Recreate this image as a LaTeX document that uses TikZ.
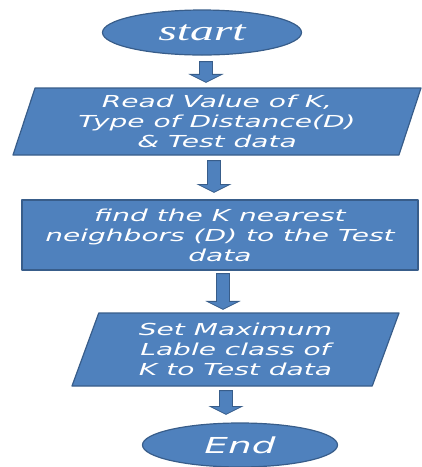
\documentclass[tikz,border=0pt]{standalone}
\usepackage{fontspec}
\usetikzlibrary{shapes.geometric,calc}
\newfontfamily\flowfont{DejaVu Sans}[FakeStretch=1.7]
\newfontfamily\endsfont{Liberation Serif}[FakeStretch=1.7]
\definecolor{boxfill}{HTML}{4F81BD}
\definecolor{boxline}{HTML}{385D8A}
\tikzset{
	shapebox/.style={draw=boxline, fill=boxfill, line width=1.2pt, text=white, inner sep=0pt, align=center,
		font=\flowfont\itshape\fontsize{16.5}{20}\selectfont},
	terminal/.style={shapebox, ellipse},
	iobox/.style={shapebox, trapezium, trapezium stretches body},
	procbox/.style={shapebox, rectangle},
	blockarrow/.style n args={3}{draw=boxline, fill=boxfill, line width=.8pt, line join=miter,
		to path={($(\tikztostart.south)+(#1-6.5,#2)$) -- ($(\tikztostart.south)+(#1+6.5,#2)$)
			-- ($(\tikztostart.south |- \tikztotarget.north)+(#1+6.5,-#3-8)$)
			-- ($(\tikztostart.south |- \tikztotarget.north)+(#1+16,-#3-8)$)
			-- ($(\tikztostart.south |- \tikztotarget.north)+(#1,-#3)$)
			-- ($(\tikztostart.south |- \tikztotarget.north)+(#1-16,-#3-8)$)
			-- ($(\tikztostart.south |- \tikztotarget.north)+(#1-6.5,-#3-8)$) -- cycle}}
}
\begin{document}
\begin{tikzpicture}[x=1pt, y=-1pt, line join=round, line cap=round]
	\useasboundingbox (0,0) rectangle (422,467);
	% start / end
	\node (start) [terminal, minimum width=199, minimum height=45, font=\endsfont\itshape\fontsize{28}{30}\selectfont] at (202,32.5) {start};
	\node (read) [iobox, trapezium left angle=67.3, trapezium right angle=112.7, minimum width=408, minimum height=67] at (217,121.5)
		{Read Value of K,\\Type of Distance(D)\\\& Test data};
	\node (find) [procbox, minimum width=396, minimum height=70] at (220,235)
		{find the K nearest\\neighbors (D) to the Test\\data};
	\node (label) [iobox, trapezium left angle=63.1, trapezium right angle=116.9, minimum width=327, minimum height=73] at (235.5,349.5)
		{Set Maximum\\Lable class of\\K to Test data};
	\node (stop) [terminal, minimum width=195, minimum height=44, font=\flowfont\itshape\fontsize{22}{24}\selectfont] at (240,445) {End};
	% block arrows
	\draw [blockarrow={4}{6}{5}] (start) to (read);
	\draw [blockarrow={-3}{5}{7}] (read) to (find);
	\draw [blockarrow={3}{3}{3}] (find) to (label);
	\draw [blockarrow={-9.5}{4}{8}] (label) to (stop);
\end{tikzpicture}
\end{document}
